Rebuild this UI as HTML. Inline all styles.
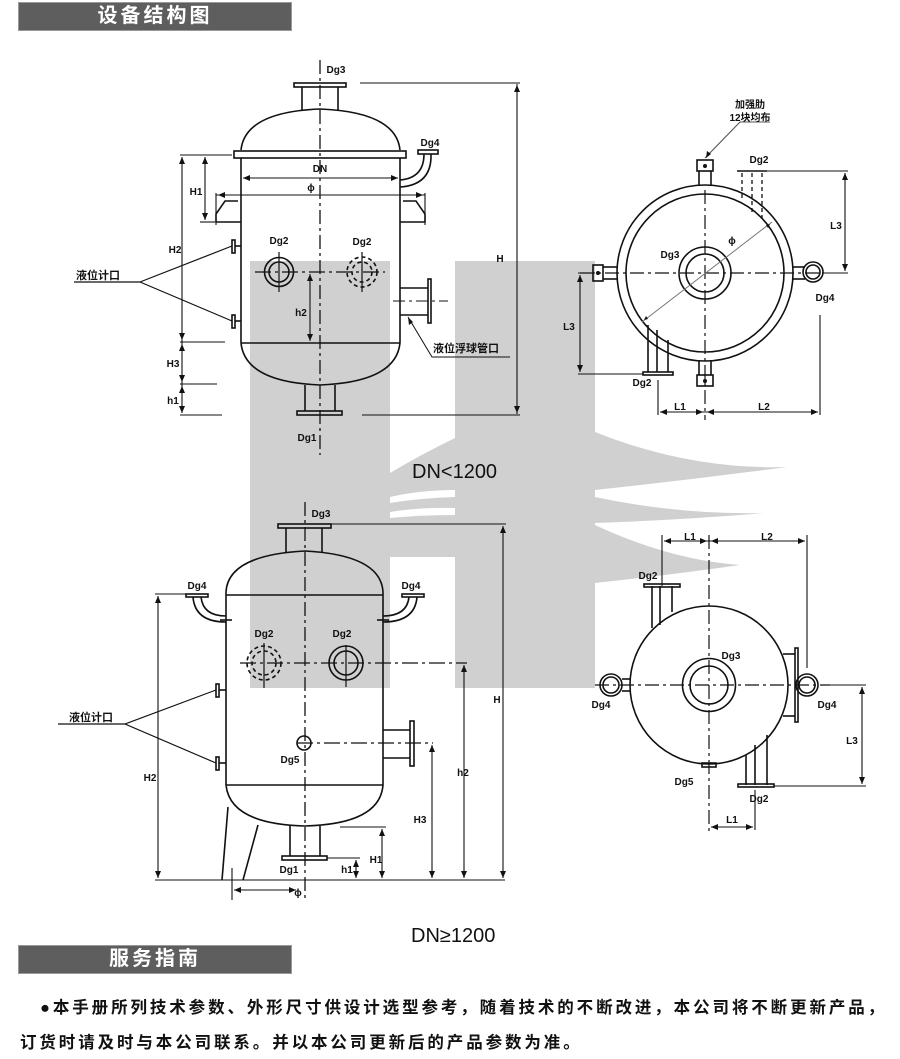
<!DOCTYPE html>
<html><head><meta charset="utf-8"><style>
html,body{margin:0;padding:0;background:#fff;}
body{width:900px;height:1059px;position:relative;overflow:hidden;font-family:"Liberation Sans","Noto Sans CJK SC",sans-serif;}
.hd{position:absolute;left:18px;width:272px;height:27px;background:#5e5e5e;border:1px solid #999;color:#fff;font-weight:bold;font-size:20px;line-height:27px;text-align:center;letter-spacing:3px;}
.tx{position:absolute;font-weight:bold;font-size:16.5px;letter-spacing:2.9px;color:#111;white-space:nowrap;}
svg{position:absolute;left:0;top:0;}
</style></head><body>
<svg width="900" height="1059" viewBox="0 0 900 1059" font-family="Liberation Sans, Noto Sans CJK SC, sans-serif">
<!-- watermark -->
<g fill="#d0d0d0">
<rect x="250" y="261" width="140" height="427"/>
<rect x="455" y="261" width="140" height="427"/>
<path d="M390,473 Q420,455 455,438 L455,490 Q420,490 390,497 Z"/>
<path d="M390,503 Q420,498 455,497 L455,508 Q420,507 390,512 Z"/>
<path d="M390,518 Q420,515 455,515 L455,557 L390,557 Z"/>
<path d="M595,432 Q690,470 787,467 Q690,480 595,490 Z"/>
<path d="M595,497 Q680,515 766,513 Q680,520 595,523 Z"/>
<path d="M595,525 Q670,560 740,565 Q670,575 595,583 Z"/>
</g>
<g stroke="#111" fill="none" stroke-width="1.6">
<!-- ===== TOP VESSEL ===== -->
<line x1="320" y1="60" x2="320" y2="455" stroke-width="1.3" stroke-dasharray="14,4,3,4"/>
<rect x="294" y="83" width="52" height="4"/>
<line x1="302" y1="87" x2="302" y2="110"/><line x1="338" y1="87" x2="338" y2="110"/>
<path d="M241,150 Q245,112 320,109 Q396,112 400,150"/>
<rect x="234" y="151" width="172" height="7"/>
<line x1="241" y1="158" x2="241" y2="343"/><line x1="400" y1="158" x2="400" y2="343"/>
<line x1="241" y1="343" x2="400" y2="343"/>
<path d="M241,343 Q245,382 320,385 Q396,382 400,343"/>
<line x1="305" y1="385" x2="305" y2="411"/><line x1="335" y1="385" x2="335" y2="411"/>
<rect x="297" y="411" width="45" height="4"/>
<g stroke-width="1.1">
<line x1="243" y1="178" x2="398" y2="178"/>
<line x1="216" y1="195" x2="425" y2="195"/>
<line x1="216" y1="193" x2="216" y2="225"/><line x1="425" y1="193" x2="425" y2="225"/>
</g>
<path d="M238,201 L225,201 L216,214 L216,222 L241,222"/>
<path d="M403,201 L416,201 L425,214 L425,222 L400,222"/>
<g stroke-width="1.1">
<line x1="180" y1="155" x2="232" y2="155"/>
<line x1="205" y1="157" x2="205" y2="220"/>
<line x1="200" y1="222" x2="215" y2="222"/>
<line x1="182" y1="157" x2="182" y2="413"/>
<line x1="180" y1="342" x2="225" y2="342"/>
<line x1="180" y1="384" x2="217" y2="384"/>
<line x1="180" y1="415" x2="222" y2="415"/>
<line x1="517" y1="84" x2="517" y2="414"/>
<line x1="360" y1="83" x2="520" y2="83"/>
<line x1="362" y1="415" x2="520" y2="415"/>
<line x1="310" y1="274" x2="310" y2="341"/>
</g>
<rect x="232" y="240" width="3" height="13"/><line x1="235" y1="246" x2="241" y2="246"/>
<rect x="232" y="315" width="3" height="13"/><line x1="235" y1="321" x2="241" y2="321"/>
<line x1="74" y1="282" x2="140" y2="282" stroke-width="1.2"/>
<line x1="140" y1="282" x2="232" y2="246" stroke-width="1.2"/>
<line x1="140" y1="282" x2="232" y2="321" stroke-width="1.2"/>
<circle cx="279" cy="272" r="14.5"/><circle cx="279" cy="272" r="10"/>
<line x1="279" y1="252" x2="279" y2="292" stroke-width="1.2"/>
<circle cx="362" cy="272" r="15" stroke-dasharray="4,3"/><circle cx="362" cy="272" r="10" stroke-dasharray="4,3"/>
<line x1="362" y1="252" x2="362" y2="292" stroke-width="1.2"/>
<line x1="255" y1="272" x2="385" y2="272" stroke-width="1.2" stroke-dasharray="16,4,3,4"/>
<line x1="400" y1="288" x2="428" y2="288"/><line x1="400" y1="315" x2="428" y2="315"/>
<rect x="428" y="279" width="3" height="44"/>
<line x1="393" y1="301" x2="448" y2="301" stroke-width="1.1" stroke-dasharray="12,4,3,4"/>
<polyline points="408,317 432,357 510,357" stroke-width="1"/>
<path d="M400,180 Q424,178 424,154"/><path d="M400,187 Q432,185 431,154"/>
<rect x="418" y="150" width="20" height="4"/>
<!-- ===== TOP-RIGHT PLAN ===== -->
<circle cx="705" cy="273" r="88"/><circle cx="705" cy="273" r="79"/>
<circle cx="705" cy="273" r="26"/><circle cx="705" cy="273" r="19"/>
<line x1="580" y1="273" x2="822" y2="273" stroke-width="1.2" stroke-dasharray="14,4,3,4"/>
<line x1="705" y1="190" x2="705" y2="420" stroke-width="1.2" stroke-dasharray="14,4,3,4"/>
<line x1="642" y1="322" x2="772" y2="222" stroke="#777" stroke-width="1"/>
<rect x="697" y="160" width="16" height="11"/><line x1="699" y1="171" x2="699" y2="186"/><line x1="711" y1="171" x2="711" y2="186"/>
<rect x="697" y="375" width="16" height="11"/><line x1="699" y1="360" x2="699" y2="375"/><line x1="711" y1="360" x2="711" y2="375"/>
<rect x="593" y="265" width="10" height="16"/><line x1="603" y1="267" x2="618" y2="267"/><line x1="603" y1="279" x2="618" y2="279"/>
<line x1="792" y1="267" x2="805" y2="267"/><line x1="792" y1="279" x2="805" y2="279"/>
<circle cx="813" cy="272" r="10"/><circle cx="813" cy="272" r="7"/>
<g stroke-dasharray="4,3" stroke-width="1.3"><line x1="742" y1="173" x2="742" y2="200"/><line x1="752" y1="173" x2="752" y2="213"/><line x1="762" y1="173" x2="762" y2="218"/></g>
<line x1="737" y1="171" x2="767" y2="171"/>
<line x1="648" y1="325" x2="648" y2="372"/><line x1="657" y1="330" x2="657" y2="372"/><line x1="668" y1="340" x2="668" y2="372"/>
<rect x="643" y="372" width="30" height="3"/>
<g stroke-width="1.1">
<line x1="767" y1="171" x2="848" y2="171"/><line x1="845" y1="173" x2="845" y2="271"/><line x1="822" y1="273" x2="848" y2="273"/>
<line x1="578" y1="273" x2="595" y2="273"/><line x1="580" y1="275" x2="580" y2="372"/><line x1="578" y1="374" x2="643" y2="374"/>
<line x1="658" y1="380" x2="658" y2="415"/><line x1="820" y1="315" x2="820" y2="415"/>
<line x1="660" y1="412" x2="818" y2="412"/>
<polyline points="705,158 740,122 770,122" stroke="#555"/>
</g>
<!-- ===== BOTTOM VESSEL ===== -->
<line x1="305" y1="502" x2="305" y2="898" stroke-width="1.3" stroke-dasharray="14,4,3,4"/>
<rect x="278" y="524" width="53" height="4"/>
<line x1="286" y1="528" x2="286" y2="552"/><line x1="322" y1="528" x2="322" y2="552"/>
<path d="M226,592 Q228,555 305,551 Q381,555 383,592"/>
<line x1="226" y1="592" x2="226" y2="785"/><line x1="383" y1="592" x2="383" y2="785"/>
<line x1="226" y1="595" x2="383" y2="595"/>
<line x1="226" y1="785" x2="383" y2="785"/>
<path d="M226,785 Q230,824 305,826 Q380,824 383,785"/>
<line x1="290" y1="826" x2="290" y2="856"/><line x1="320" y1="826" x2="320" y2="856"/>
<rect x="282" y="856" width="45" height="4"/>
<rect x="186" y="594" width="22" height="3"/>
<path d="M193,597 Q195,622 226,622"/><path d="M201,597 Q203,616 226,616"/>
<line x1="220" y1="620" x2="232" y2="620"/>
<rect x="402" y="594" width="22" height="3"/>
<path d="M417,597 Q415,622 383,622"/><path d="M409,597 Q407,616 383,616"/>
<line x1="377" y1="620" x2="389" y2="620"/>
<circle cx="264" cy="663" r="17" stroke-dasharray="4,3"/><circle cx="264" cy="663" r="12" stroke-dasharray="4,3"/>
<line x1="264" y1="643" x2="264" y2="688" stroke-width="1.2"/>
<circle cx="346" cy="663" r="17"/><circle cx="346" cy="663" r="12"/>
<line x1="346" y1="645" x2="346" y2="687" stroke-width="1.2"/>
<line x1="240" y1="663" x2="467" y2="663" stroke-width="1.2" stroke-dasharray="16,4,3,4"/>
<circle cx="304" cy="743" r="7"/>
<line x1="297" y1="743" x2="433" y2="743" stroke-width="1.2" stroke-dasharray="16,4,3,4"/>
<line x1="383" y1="730" x2="410" y2="730"/><line x1="383" y1="758" x2="410" y2="758"/>
<rect x="410" y="721" width="4" height="45"/>
<rect x="216" y="684" width="3" height="13"/><line x1="219" y1="690" x2="226" y2="690"/>
<rect x="216" y="757" width="3" height="13"/><line x1="219" y1="763" x2="226" y2="763"/>
<line x1="58" y1="724" x2="125" y2="724" stroke-width="1.2"/>
<line x1="125" y1="724" x2="216" y2="690" stroke-width="1.2"/>
<line x1="125" y1="724" x2="216" y2="763" stroke-width="1.2"/>
<line x1="228" y1="807" x2="222" y2="880"/><line x1="258" y1="825" x2="243" y2="880"/>
<g stroke-width="1.1">
<line x1="155" y1="594" x2="205" y2="594"/>
<line x1="158" y1="596" x2="158" y2="878"/>
<line x1="155" y1="880" x2="505" y2="880"/>
<line x1="327" y1="858" x2="360" y2="858"/>
<line x1="356" y1="860" x2="356" y2="878"/>
<line x1="340" y1="827" x2="386" y2="827"/>
<line x1="382" y1="829" x2="382" y2="878"/>
<line x1="432" y1="745" x2="432" y2="878"/>
<line x1="464" y1="665" x2="464" y2="878"/>
<line x1="331" y1="524" x2="506" y2="524"/>
<line x1="503" y1="526" x2="503" y2="878"/>
<line x1="232" y1="868" x2="232" y2="900"/>
<line x1="234" y1="890" x2="296" y2="890"/>
</g>
<!-- ===== BOTTOM-RIGHT PLAN ===== -->
<circle cx="709" cy="685" r="79"/>
<circle cx="709" cy="685" r="26.5"/><circle cx="709" cy="685" r="19"/>
<line x1="595" y1="685" x2="830" y2="685" stroke-width="1.2" stroke-dasharray="14,4,3,4"/>
<line x1="709" y1="535" x2="709" y2="835" stroke-width="1.2" stroke-dasharray="14,4,3,4"/>
<circle cx="611" cy="685" r="11"/><circle cx="611" cy="685" r="8"/>
<line x1="622" y1="679" x2="631" y2="679"/><line x1="622" y1="691" x2="631" y2="691"/>
<circle cx="807" cy="685" r="11"/><circle cx="807" cy="685" r="8"/>
<line x1="783" y1="654" x2="795" y2="654"/><line x1="783" y1="716" x2="795" y2="716"/>
<rect x="795" y="648" width="3" height="74"/>
<line x1="652" y1="586" x2="652" y2="628"/><line x1="660" y1="586" x2="660" y2="625"/><line x1="672" y1="586" x2="672" y2="612"/>
<rect x="644" y="584" width="36" height="3"/>
<line x1="746" y1="755" x2="746" y2="785"/><line x1="755" y1="745" x2="755" y2="785"/><line x1="767" y1="735" x2="767" y2="785"/>
<rect x="738" y="784" width="36" height="3"/>
<rect x="702" y="763" width="14" height="4"/>
<g stroke-width="1.1">
<line x1="662" y1="535" x2="662" y2="586"/><line x1="807" y1="535" x2="807" y2="668"/>
<line x1="664" y1="541" x2="805" y2="541"/>
<line x1="820" y1="685" x2="866" y2="685"/>
<line x1="862" y1="687" x2="862" y2="784"/>
<line x1="774" y1="786" x2="866" y2="786"/>
<line x1="755" y1="790" x2="755" y2="830"/>
<line x1="711" y1="827" x2="753" y2="827"/>
</g>
</g>
<g fill="#111">
<path d="M243,178 l7,-3 v6z"/><path d="M398,178 l-7,-3 v6z"/>
<path d="M218,195 l7,-3 v6z"/><path d="M423,195 l-7,-3 v6z"/>
<path d="M205,157 l-3,7 h6z"/><path d="M205,220 l-3,-7 h6z"/>
<path d="M182,157 l-3,7 h6z"/><path d="M182,340 l-3,-7 h6z"/><path d="M182,344 l-3,7 h6z"/><path d="M182,382 l-3,-7 h6z"/><path d="M182,386 l-3,7 h6z"/><path d="M182,413 l-3,-7 h6z"/>
<path d="M517,85 l-3,7 h6z"/><path d="M517,413 l-3,-7 h6z"/>
<path d="M310,274 l-3,7 h6z"/><path d="M310,341 l-3,-7 h6z"/>
<path d="M408,317 l1,8 l4,-3z"/>
<path d="M845,173 l-3,7 h6z"/><path d="M845,271 l-3,-7 h6z"/>
<path d="M580,275 l-3,7 h6z"/><path d="M580,372 l-3,-7 h6z"/>
<path d="M660,412 l7,-3 v6z"/><path d="M703,412 l-7,-3 v6z"/><path d="M707,412 l7,-3 v6z"/><path d="M818,412 l-7,-3 v6z"/>
<path d="M706,158 l1,-7 l4,3z"/>
<path d="M770,224 l-4,1 l2,3z"/><path d="M644,320 l4,-1 l-2,-3z"/>
<path d="M158,596 l-3,7 h6z"/><path d="M158,878 l-3,-7 h6z"/>
<path d="M356,860 l-3,7 h6z"/><path d="M356,878 l-3,-7 h6z"/>
<path d="M382,829 l-3,7 h6z"/><path d="M382,878 l-3,-7 h6z"/>
<path d="M432,745 l-3,7 h6z"/><path d="M432,878 l-3,-7 h6z"/>
<path d="M464,665 l-3,7 h6z"/><path d="M464,878 l-3,-7 h6z"/>
<path d="M503,526 l-3,7 h6z"/><path d="M503,878 l-3,-7 h6z"/>
<path d="M234,890 l7,-3 v6z"/><path d="M296,890 l-7,-3 v6z"/>
<path d="M664,541 l7,-3 v6z"/><path d="M707,541 l-7,-3 v6z"/><path d="M711,541 l7,-3 v6z"/><path d="M805,541 l-7,-3 v6z"/>
<path d="M862,687 l-3,7 h6z"/><path d="M862,784 l-3,-7 h6z"/>
<path d="M711,827 l7,-3 v6z"/><path d="M753,827 l-7,-3 v6z"/>
<circle cx="705" cy="166" r="2"/><circle cx="705" cy="381" r="2"/><circle cx="598" cy="273" r="2"/>
</g>
<g font-size="10" font-weight="bold" fill="#111" text-anchor="middle">
<text x="336" y="73">Dg3</text><text x="430" y="146">Dg4</text>
<text x="320" y="172">DN</text><text x="311" y="191">ϕ</text>
<text x="196" y="195">H1</text><text x="175" y="253">H2</text><text x="173" y="367">H3</text><text x="173" y="404">h1</text>
<text x="301" y="316">h2</text><text x="500" y="262">H</text>
<text x="279" y="244">Dg2</text><text x="362" y="245">Dg2</text><text x="307" y="441">Dg1</text>
<text x="750" y="108">加强肋</text><text x="750" y="121">12块均布</text>
<text x="759" y="163">Dg2</text><text x="670" y="258">Dg3</text><text x="732" y="244">ϕ</text>
<text x="825" y="301">Dg4</text><text x="642" y="386">Dg2</text>
<text x="836" y="229">L3</text><text x="569" y="330">L3</text>
<text x="680" y="410">L1</text><text x="764" y="410">L2</text>
<text x="321" y="517">Dg3</text><text x="197" y="589">Dg4</text><text x="411" y="589">Dg4</text>
<text x="264" y="637">Dg2</text><text x="342" y="637">Dg2</text><text x="290" y="763">Dg5</text>
<text x="150" y="781">H2</text><text x="347" y="873">h1</text><text x="376" y="863">H1</text>
<text x="420" y="823">H3</text><text x="463" y="776">h2</text><text x="497" y="703">H</text>
<text x="289" y="873">Dg1</text><text x="298" y="896">ϕ</text>
<text x="690" y="540">L1</text><text x="767" y="540">L2</text>
<text x="648" y="579">Dg2</text><text x="731" y="659">Dg3</text>
<text x="601" y="708">Dg4</text><text x="827" y="708">Dg4</text>
<text x="684" y="785">Dg5</text><text x="759" y="802">Dg2</text>
<text x="852" y="744">L3</text><text x="732" y="823">L1</text>
</g>
<g font-size="11" font-weight="bold" fill="#111">
<text x="76" y="279">液位计口</text>
<text x="433" y="352">液位浮球管口</text>
<text x="69" y="721">液位计口</text>
</g>
<text x="412" y="478" font-size="20" fill="#111">DN&lt;1200</text>
<text x="411" y="942" font-size="20" fill="#111">DN≥1200</text>
</svg>
<div class="hd" style="top:2px;">设备结构图</div>
<div class="hd" style="top:945px;">服务指南</div>
<div class="tx" style="left:40px;top:994px;">●本手册所列技术参数、外形尺寸供设计选型参考，随着技术的不断改进，本公司将不断更新产品，</div>
<div class="tx" style="left:20px;top:1029px;">订货时请及时与本公司联系。并以本公司更新后的产品参数为准。</div>
</body></html>
